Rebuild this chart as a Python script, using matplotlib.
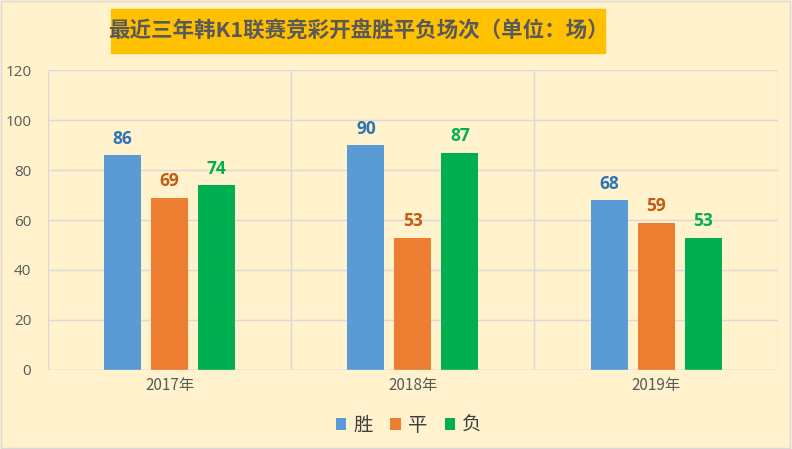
import numpy as np
import matplotlib.pyplot as plt
from matplotlib.patches import Rectangle

plt.rcParams['font.family'] = ['Noto Sans CJK SC', 'DejaVu Sans']

years = ['2017年', '2018年', '2019年']
series = ['胜', '平', '负']
win = [86, 90, 68]
draw = [69, 53, 59]
lose = [74, 87, 53]

colors = ['#5B9BD5', '#ED7D31', '#00B050']
label_colors = ['#2E75B6', '#C55A11', '#00B050']
bg = '#FFF2CC'

fig = plt.figure(figsize=(7.92, 4.49), dpi=100, facecolor=bg)
ax = fig.add_axes([0.0606, 0.176, 0.9214, 0.668])
ax.set_facecolor(bg)

x = np.arange(len(years))
w = 0.152
step = 0.193
for i, vals in enumerate([win, draw, lose]):
    pos = x + (i - 1) * step
    ax.bar(pos, vals, width=w, color=colors[i], label=series[i], zorder=3)
    for p, v in zip(pos, vals):
        ax.text(p, v + 3, str(v), ha='center', va='bottom', fontsize=12.5,
                fontweight='bold', color=label_colors[i], family='Open Sans')

ax.set_xlim(-0.5, 2.5)
ax.set_ylim(0, 120)
ax.set_yticks(range(0, 121, 20))
ax.set_xticks(x)
ax.set_xticklabels(years)
ax.tick_params(axis='both', length=0, labelsize=11, colors='#595959')
ax.tick_params(axis='y', pad=12)
ax.tick_params(axis='x', pad=5)
for t in ax.get_yticklabels():
    t.set_family('Open Sans')
ax.grid(axis='y', color='#D9D9D9', linewidth=1, zorder=0)
for b in [-0.5, 0.5, 1.5, 2.5]:
    ax.axvline(b, color='#D9D9D9', linewidth=1, zorder=0)
for s in ax.spines.values():
    s.set_visible(False)
ax.axhline(0, color='#D9D9D9', linewidth=1, zorder=4)

leg = fig.legend(loc='center', bbox_to_anchor=(0.516, 0.053), ncol=3, frameon=False,
                 fontsize=14, handlelength=0.55, handleheight=0.55, handletextpad=0.35,
                 columnspacing=0.9)
for t in leg.get_texts():
    t.set_color('#404040')

fig.patches.append(Rectangle((111 / 792, 1 - 53 / 449), 494 / 792, 44 / 449,
                             transform=fig.transFigure, color='#FFC000', zorder=1))
fig.patches.append(Rectangle((0.001, 0.002), 0.997, 0.996, transform=fig.transFigure,
                             fill=False, edgecolor='#D9D9D9', linewidth=1, zorder=1))
fig.text(358 / 792, 1 - 31 / 449, '最近三年韩K1联赛竞彩开盘胜平负场次（单位：场）',
         ha='center', va='center', fontsize=15.5, fontweight='bold', color='#595959', zorder=2)

fig.savefig('out.png', dpi=100, facecolor=bg)
